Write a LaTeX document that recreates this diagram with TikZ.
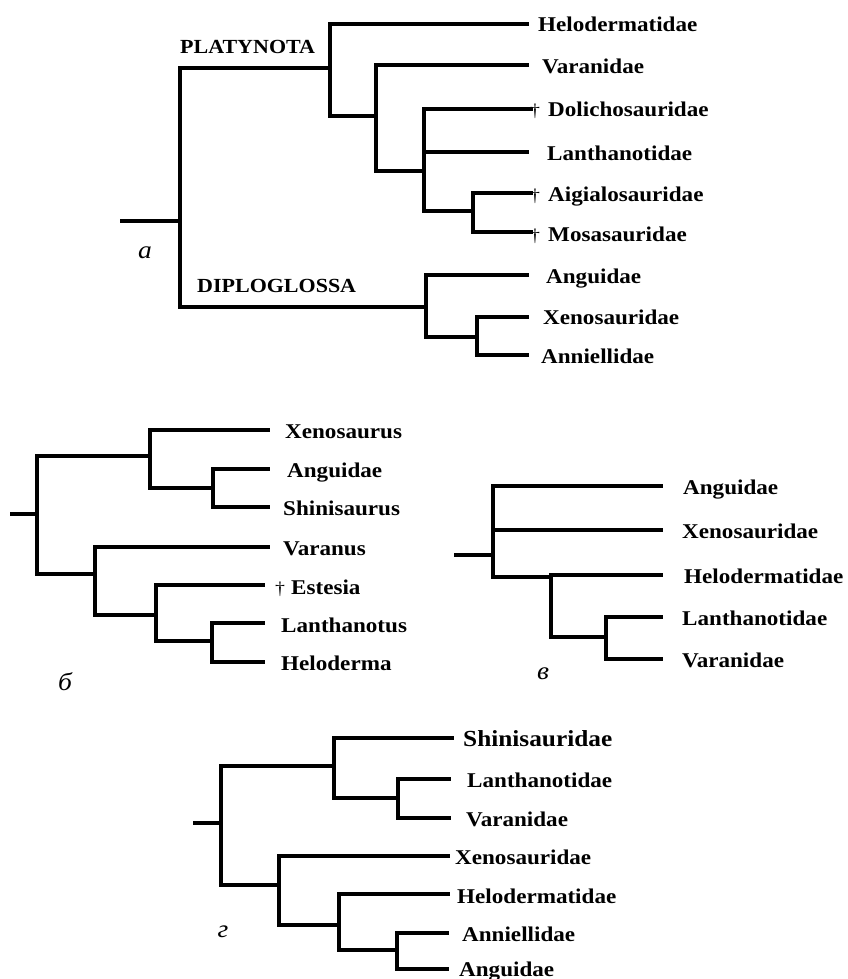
\documentclass[tikz,border=0pt]{standalone}
\usepackage{fontspec}
\setmainfont{Liberation Serif}[FakeStretch=1.1]
\tikzset{
  br/.style={line width=3.2pt, line cap=rect, line join=miter},
  lbl/.style={anchor=base west, inner sep=0pt, font=\fontsize{21}{21}\selectfont\bfseries},
  biglbl/.style={anchor=base west, inner sep=0pt, font=\fontsize{23}{23}\selectfont\bfseries},
  grp/.style={anchor=base west, inner sep=0pt, font=\fontsize{20}{20}\selectfont\bfseries},
  dag/.style={anchor=base west, inner sep=0pt, font=\fontsize{18}{18}\selectfont},
  fig/.style={inner sep=0pt, font=\fontsize{25}{25}\selectfont\itshape},
}
\begin{document}
\begin{tikzpicture}[x=1pt,y=-1pt]
\useasboundingbox[fill=white] (0,0) rectangle (847,979);

% ---------------- tree a ----------------
\coordinate (a0) at (122,221);
\coordinate (ar) at (180,221);
\coordinate (ap) at (330,68);
\coordinate (ap2) at (376,116);
\coordinate (ap3) at (424,171);
\coordinate (ap4) at (473,211);
\coordinate (ad) at (426,307);
\coordinate (ad2) at (477,337);
\coordinate (aL1) at (527,24);
\coordinate (aL2) at (527,65);
\coordinate (aL3) at (531,109);
\coordinate (aL4) at (527,152);
\coordinate (aL5) at (531,193);
\coordinate (aL6) at (531,232);
\coordinate (aL7) at (527,275);
\coordinate (aL8) at (527,317);
\coordinate (aL9) at (527,355);
\draw[br] (a0) -- (ar);
\draw[br] (ar) |- (ap);
\draw[br] (ar) |- (ad);
\draw[br] (ap) |- (aL1);
\draw[br] (ap) |- (ap2);
\draw[br] (ap2) |- (aL2);
\draw[br] (ap2) |- (ap3);
\draw[br] (ap3) |- (aL3);
\draw[br] (ap3) |- (aL4);
\draw[br] (ap3) |- (ap4);
\draw[br] (ap4) |- (aL5);
\draw[br] (ap4) |- (aL6);
\draw[br] (ad) |- (aL7);
\draw[br] (ad) |- (ad2);
\draw[br] (ad2) |- (aL8);
\draw[br] (ad2) |- (aL9);
\node[grp] (plat) at (180,54) {PLATYNOTA};
\node[grp] (dipl) at (197,292) {DIPLOGLOSSA};
\node[fig] (fa) at (145,253) {а};
\node[lbl] (ta1) at (538,32) {Helodermatidae};
\node[lbl] (ta2) at (542,74) {Varanidae};
\node[dag] (da3) at (530,117) {†};
\node[lbl] (ta3) at (548,117) {Dolichosauridae};
\node[lbl] (ta4) at (547,160) {Lanthanotidae};
\node[dag] (da5) at (530,201) {†};
\node[lbl] (ta5) at (548,201) {Aigialosauridae};
\node[dag] (da6) at (530,241) {†};
\node[lbl] (ta6) at (548,241) {Mosasauridae};
\node[lbl] (ta7) at (546,283) {Anguidae};
\node[lbl] (ta8) at (543,324) {Xenosauridae};
\node[lbl] (ta9) at (541,363) {Anniellidae};

% ---------------- tree b ----------------
\coordinate (b0) at (12,514);
\coordinate (br) at (37,514);
\coordinate (bu) at (150,456);
\coordinate (bu2) at (213,488);
\coordinate (bl) at (95,574);
\coordinate (bl2) at (156,615);
\coordinate (bl3) at (212,641);
\coordinate (bL1) at (268,430);
\coordinate (bL2) at (268,469);
\coordinate (bL3) at (268,507);
\coordinate (bL4) at (268,547);
\coordinate (bL5) at (263,585);
\coordinate (bL6) at (263,623);
\coordinate (bL7) at (263,662);
\draw[br] (b0) -- (br);
\draw[br] (br) |- (bu);
\draw[br] (br) |- (bl);
\draw[br] (bu) |- (bL1);
\draw[br] (bu) |- (bu2);
\draw[br] (bu2) |- (bL2);
\draw[br] (bu2) |- (bL3);
\draw[br] (bl) |- (bL4);
\draw[br] (bl) |- (bl2);
\draw[br] (bl2) |- (bL5);
\draw[br] (bl2) |- (bl3);
\draw[br] (bl3) |- (bL6);
\draw[br] (bl3) |- (bL7);
\node[lbl] (tb1) at (285,438) {Xenosaurus};
\node[lbl] (tb2) at (287,477) {Anguidae};
\node[lbl] (tb3) at (283,515) {Shinisaurus};
\node[lbl] (tb4) at (283,555) {Varanus};
\node[dag] (db5) at (275,594) {†};
\node[lbl] (tb5) at (291,594) {Estesia};
\node[lbl] (tb6) at (281,632) {Lanthanotus};
\node[lbl] (tb7) at (281,670) {Heloderma};
\node[fig] (fb) at (65,682) {б};

% ---------------- tree c ----------------
\coordinate (c0) at (456,555);
\coordinate (cr) at (493,555);
\coordinate (cn) at (551,577);
\coordinate (cn2) at (606,637);
\coordinate (cL1) at (661,486);
\coordinate (cL2) at (661,530);
\coordinate (cL3) at (661,575);
\coordinate (cL4) at (661,617);
\coordinate (cL5) at (661,659);
\draw[br] (c0) -- (cr);
\draw[br] (cr) |- (cL1);
\draw[br] (cr) |- (cL2);
\draw[br] (cr) |- (cn);
\draw[br] (cn) |- (cL3);
\draw[br] (cn) |- (cn2);
\draw[br] (cn2) |- (cL4);
\draw[br] (cn2) |- (cL5);
\node[lbl] (tc1) at (683,494) {Anguidae};
\node[lbl] (tc2) at (682,538) {Xenosauridae};
\node[lbl] (tc3) at (684,583) {Helodermatidae};
\node[lbl] (tc4) at (682,625) {Lanthanotidae};
\node[lbl] (tc5) at (682,667) {Varanidae};
\node[fig] (fc) at (543,674) {в};

% ---------------- tree d ----------------
\coordinate (d0) at (195,823);
\coordinate (dr) at (221,823);
\coordinate (du) at (334,766);
\coordinate (du2) at (398,798);
\coordinate (dl) at (279,885);
\coordinate (dl2) at (339,925);
\coordinate (dl3) at (397,950);
\coordinate (dL1) at (452,738);
\coordinate (dL2) at (449,779);
\coordinate (dL3) at (449,818);
\coordinate (dL4) at (448,856);
\coordinate (dL5) at (448,894);
\coordinate (dL6) at (447,933);
\coordinate (dL7) at (447,969);
\draw[br] (d0) -- (dr);
\draw[br] (dr) |- (du);
\draw[br] (dr) |- (dl);
\draw[br] (du) |- (dL1);
\draw[br] (du) |- (du2);
\draw[br] (du2) |- (dL2);
\draw[br] (du2) |- (dL3);
\draw[br] (dl) |- (dL4);
\draw[br] (dl) |- (dl2);
\draw[br] (dl2) |- (dL5);
\draw[br] (dl2) |- (dl3);
\draw[br] (dl3) |- (dL6);
\draw[br] (dl3) |- (dL7);
\node[biglbl] (td1) at (463,746) {Shinisauridae};
\node[lbl] (td2) at (467,787) {Lanthanotidae};
\node[lbl] (td3) at (466,826) {Varanidae};
\node[lbl] (td4) at (455,864) {Xenosauridae};
\node[lbl] (td5) at (457,903) {Helodermatidae};
\node[lbl] (td6) at (462,941) {Anniellidae};
\node[lbl] (td7) at (459,976) {Anguidae};
\node[fig] (fd) at (223,932) {г};
\end{tikzpicture}
\end{document}
